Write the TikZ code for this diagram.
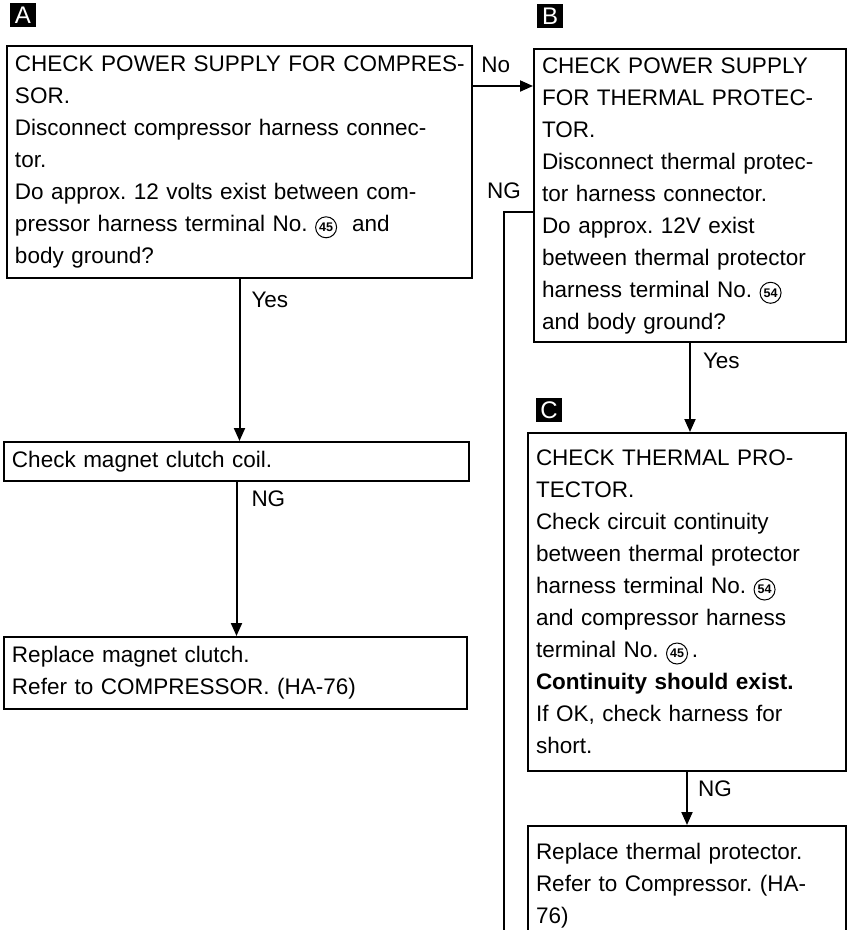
\documentclass[tikz,border=0pt]{standalone}
\usepackage{fontspec}
\setmainfont{Liberation Sans}
\usetikzlibrary{arrows.meta}
\frenchspacing
\newcommand{\fs}{\fontsize{22.5}{32}\selectfont}
\newcommand{\term}[1]{\tikz[baseline=(tn.base)]\node[draw, circle, line width=1pt, inner sep=0pt, minimum size=21pt, font=\fontsize{12.5}{12.5}\selectfont\bfseries] (tn) {#1};}
\begin{document}
\begin{tikzpicture}[x=1pt, y=-1pt,
  box/.style={draw, line width=2pt, anchor=north west, align=left, inner xsep=8pt, inner ysep=4pt, font=\fs},
  tag/.style={fill=black, text=white, minimum width=26pt, minimum height=24pt, inner sep=0pt, font=\fontsize{24}{24}\selectfont},
  arr/.style={line width=2pt, -{Triangle[length=13pt, width=11pt]}},
  lbl/.style={font=\fs, inner sep=2pt}]
  \clip (0,0) rectangle (849,930);

  % Left side
  \node[tag] (tagA) at (23,15) {A};
  \node[box, text width=449pt, minimum height=232pt] (boxA) at (6,45)
    {\mbox{CHECK POWER SUPPLY FOR COMPRES-}\\
     SOR.\\
     Disconnect compressor harness connec-\\
     tor.\\
     Do approx. 12 volts exist between com-\\
     pressor harness terminal No.\ \term{45}\ \ and\\
     body ground?};
  \node[box, text width=449pt, minimum height=39pt] (coil) at (3,441)
    {Check magnet clutch coil.};
  \node[box, text width=447pt, minimum height=72pt] (clutch) at (3,636)
    {Replace magnet clutch.\\
     Refer to COMPRESSOR. (HA-76)};

  \draw[arr] (boxA.south) -- node[lbl, right=9pt, pos=0.13] {Yes} (boxA.south |- coil.north);
  \draw[arr] (coil.south) -- node[lbl, right=12pt, pos=0.11] {NG} (coil.south |- clutch.north);

  % Right side
  \node[tag] (tagB) at (550,16) {B};
  \node[box, text width=296pt, minimum height=293pt] (boxB) at (533,48)
    {CHECK POWER SUPPLY\\
     FOR THERMAL PROTEC-\\
     TOR.\\
     Disconnect thermal protec-\\
     tor harness connector.\\
     Do approx. 12V exist\\
     between thermal protector\\
     harness terminal No.\ \term{54}\\
     and body ground?};
  \node[tag] (tagC) at (549,410) {C};
  \node[box, text width=302pt, minimum height=338pt] (boxC) at (527,432)
    {CHECK THERMAL PRO-\\
     TECTOR.\\
     Check circuit continuity\\
     between thermal protector\\
     harness terminal No.\ \term{54}\\
     and compressor harness\\
     terminal No.\ \term{45}\,.\\
     \textbf{Continuity should exist.}\\
     If OK, check harness for\\
     short.};
  \node[box, text width=302pt, minimum height=120pt] (thermal) at (527,825)
    {Replace thermal protector.\\
     Refer to Compressor. (HA-\\
     76)};

  \coordinate (noY) at (0,86);
  \coordinate (ngX) at (504,212);
  \coordinate (ngEnd) at (504,935);
  \draw[arr] (boxA.east |- noY) -- node[lbl, above=10pt, pos=0.38] {No} (boxB.west |- noY);
  \draw[arr] (boxB.south) -- node[lbl, right=10pt, pos=0.2] {Yes} (boxB.south |- boxC.north);
  \draw[arr] (boxC.south) -- node[lbl, right=8pt, pos=0.31] {NG} (boxC.south |- thermal.north);
  \draw[line width=2pt] (boxB.west |- ngX) -- (ngX) node[lbl, above=10pt] {NG} -- (ngEnd);
\end{tikzpicture}
\end{document}
